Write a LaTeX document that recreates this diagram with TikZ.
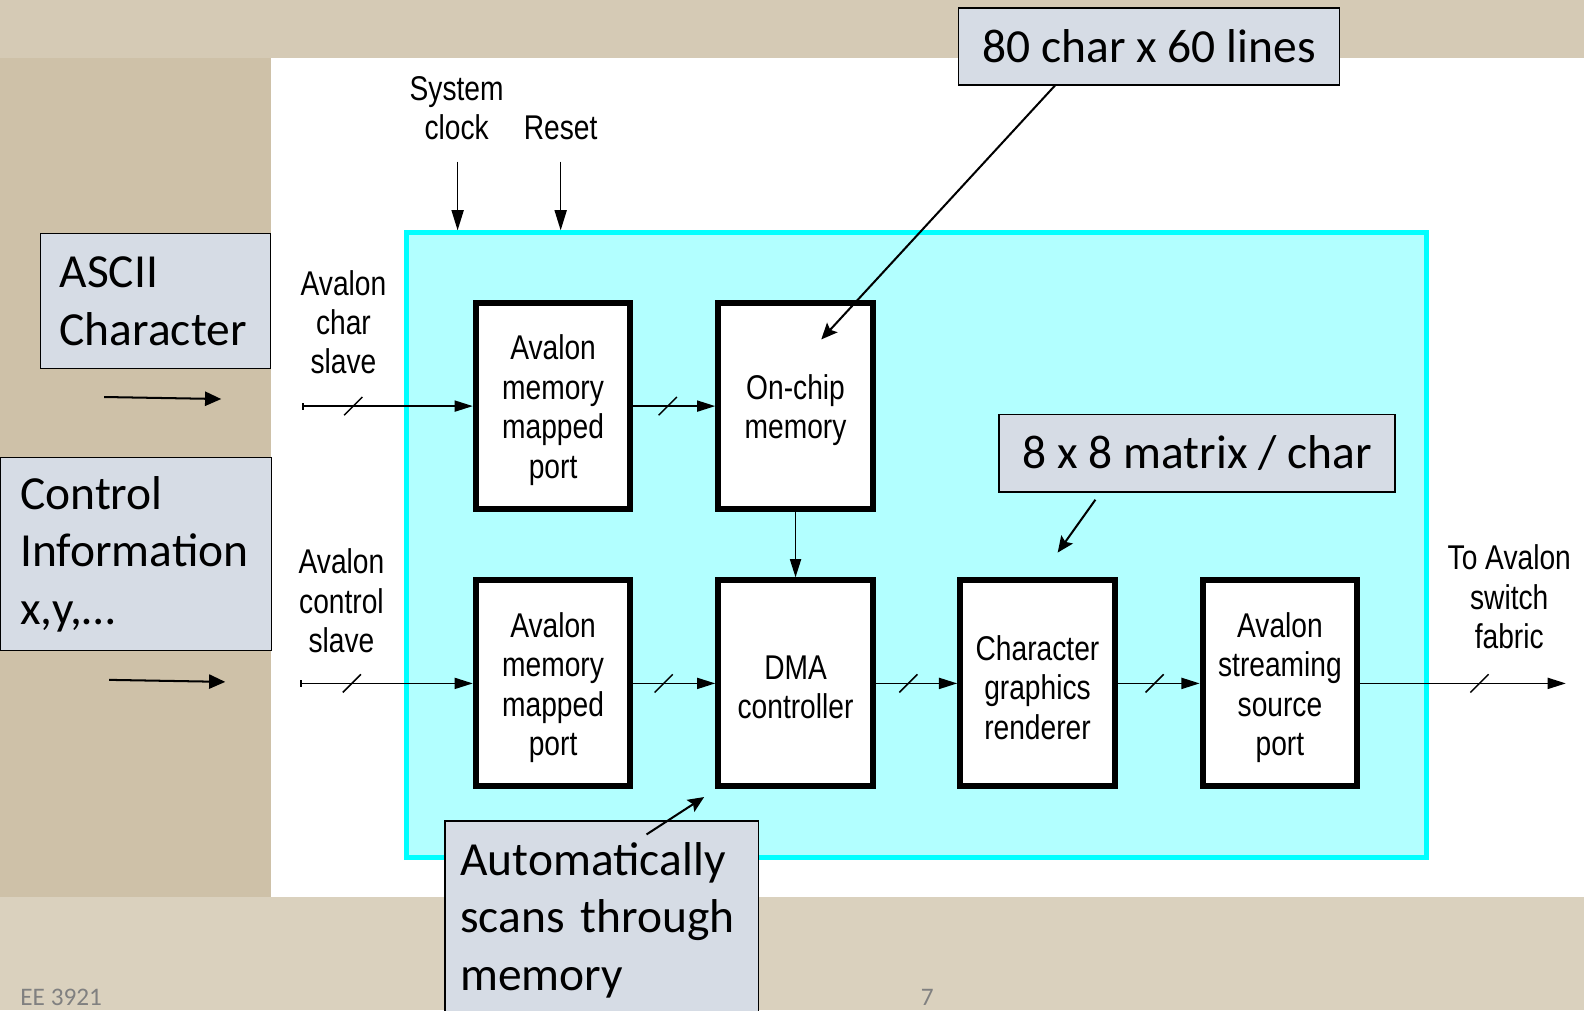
\documentclass[tikz,border=0pt]{standalone}
\usepackage{fontspec}
\setmainfont{Carlito}
\newfontfamily\narrow[FakeStretch=0.82]{Liberation Sans}
\usetikzlibrary{arrows.meta,calc}
\definecolor{bgtan}{RGB}{206,193,168}
\definecolor{cyanline}{RGB}{0,255,255}
\definecolor{cyanfill}{RGB}{178,255,255}
\definecolor{callfill}{RGB}{214,220,229}
\definecolor{footgray}{RGB}{128,128,128}
\tikzset{
  blk/.style={draw=black, line width=6pt, fill=white, minimum width=153pt, minimum height=204pt,
    inner sep=0pt},
  lbl/.style={align=center, inner sep=0pt, font=\narrow\fontsize{34}{39}\selectfont},
  blktext/.style={label={[lbl, yshift=-4pt]center:{#1}}},
  callout/.style={draw=black, line width=1.3pt, fill=callfill, inner ysep=0pt,
    font=\fontsize{47}{57}\selectfont},
  sig/.style={line width=1.5pt, -{Triangle[length=18pt,width=11pt]}},
  clkarrow/.style={line width=1.5pt, -{Triangle[length=20pt,width=12pt]}},
  note/.style={line width=2pt, -{Stealth[length=16pt,width=14pt,inset=3pt]}},
  plainarrow/.style={line width=2pt, -{Triangle[length=16pt,width=14pt]}},
  busmark/.style={line width=1.5pt},
}
\begin{document}
\begin{tikzpicture}[x=1pt,y=-1pt]
\useasboundingbox (0,0) rectangle (1568,1000);
% background
\fill[bgtan] (0,0) rectangle (1568,1000);
\fill[bgtan!85!white] (0,0) rectangle (1568,57);
\fill[bgtan!75!white] (0,888) rectangle (1568,1000);
\fill[white] (268,57) rectangle (1568,888);
% core
\node[draw=cyanline, line width=5pt, fill=cyanfill, minimum width=1010pt, minimum height=618pt, inner sep=0pt]
  (core) at (907.5,539.5) {};
% blocks
\node[blk, blktext={Avalon\\memory\\mapped\\port}] (amm1) at (547.5,402) {};
\node[blk, blktext={On-chip\\memory}] (onchip) at (787.5,402) {};
\node[blk, blktext={Avalon\\memory\\mapped\\port}] (amm2) at (547.5,676.5) {};
\node[blk, blktext={DMA\\controller}] (dma) at (787.5,676.5) {};
\node[blk, blktext={Character\\graphics\\renderer}] (cgr) at (1027,676.5) {};
\node[blk, blktext={Avalon\\streaming\\source\\port}] (assp) at (1267,676.5) {};
% labels
\node[lbl] (syslbl) at (452,107) {System\\clock};
\node[lbl] (rstlbl) at (555,127) {Reset};
\node[lbl] (charlbl) at (340,319) {Avalon\\char\\slave};
\node[lbl] (ctrllbl) at (338,595) {Avalon\\control\\slave};
\node[lbl] (outlbl) at (1494,591) {To Avalon\\switch\\fabric};
% clock/reset
\coordinate (clk) at (453,160);
\coordinate (rst) at (555,160);
\draw[clkarrow] (clk) -- (clk |- core.north);
\draw[clkarrow] (rst) -- (rst |- core.north);
% signal lines
\coordinate (charin) at (299,402);
\coordinate (ctrlin) at (297,676.5);
\coordinate (out) at (1550,676.5);
\draw[sig, {Bar[width=7pt]}-{Triangle[length=18pt,width=11pt]}] (charin) -- coordinate[pos=0.3] (s1) (amm1.west);
\draw[sig] (amm1.east) -- coordinate[pos=0.42] (s2) (onchip.west);
\draw[sig, {Bar[width=7pt]}-{Triangle[length=18pt,width=11pt]}] (ctrlin) -- coordinate[pos=0.3] (s3) (amm2.west);
\draw[sig] (amm2.east) -- coordinate[pos=0.37] (s4) (dma.west);
\draw[sig] (dma.east) -- coordinate[pos=0.4] (s5) (cgr.west);
\draw[sig] (cgr.east) -- coordinate[pos=0.45] (s6) (assp.west);
\draw[sig] (assp.east) -- coordinate[pos=0.58] (s7) (out);
\draw[sig] (onchip.south) -- (dma.north);
\foreach \s in {s1,s2,s3,s4,s5,s6,s7}
  \draw[busmark] ($(\s)+(-9,9)$) -- ($(\s)+(9,-9)$);
% callouts
\node[callout, text width=190pt, inner xsep=19pt, minimum height=134pt, align=left]
  (ascii) at (154,298) {ASCII\\Character};
\node[callout, text width=229pt, inner xsep=20pt, minimum height=191pt, align=left]
  (ctrl) at (134.5,548.5) {Control\\Information\\x,y,\dots};
\node[callout, minimum width=377pt, minimum height=76pt, align=center]
  (c80) at (1137.5,46) {80 char x 60 lines};
\node[callout, minimum width=392pt, minimum height=77pt, align=center]
  (c88) at (1185,448.5) {8 x 8 matrix / char};
\node[callout, text width=280pt, inner xsep=15pt, minimum height=196pt, align=left, anchor=north west]
  (auto) at (440,812) {Automatically\\scans through\\memory};
% callout arrows
\coordinate (t80) at (813,336);
\coordinate (t88) at (1047,547);
\coordinate (tauto) at (697,789);
\coordinate (a1s) at (103,393);
\coordinate (a1e) at (219,395);
\coordinate (a2s) at (108,673);
\coordinate (a2e) at (223,675);
\draw[note] ($(c80.south west)+(96,0)$) -- (t80);
\draw[note] ($(c88.south west)+(96,7)$) -- (t88);
\draw[note] ($(auto.north west)+(200,14)$) -- (tauto);
\draw[plainarrow] (a1s) -- (a1e);
\draw[plainarrow] (a2s) -- (a2e);
% footer
\node[anchor=base west, text=footgray, font=\fontsize{25}{30}\selectfont, inner sep=0pt] (foot) at (20,995) {EE 3921};
\node[anchor=base, text=footgray, font=\fontsize{25}{30}\selectfont, inner sep=0pt] (page) at (918,995) {7};
\end{tikzpicture}
\end{document}
